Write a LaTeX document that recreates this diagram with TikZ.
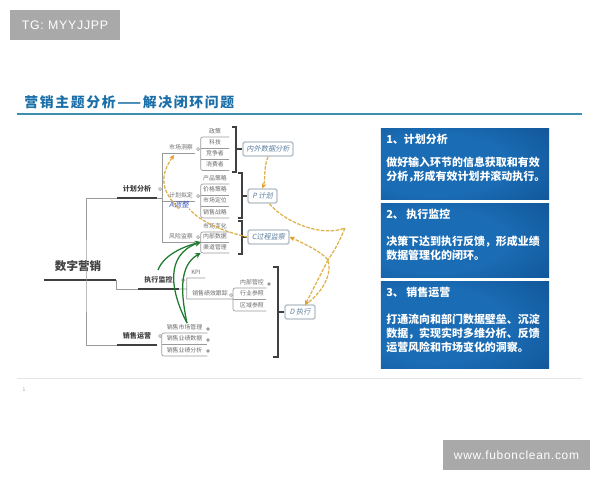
\documentclass[tikz,border=0pt]{standalone}
\usepackage{fontspec}
\usepackage{tikz}
\usetikzlibrary{arrows.meta}

\setmainfont{Noto Sans CJK SC}
\newfontfamily\tagfont{Liberation Sans}[LetterSpace=6]
\newfontfamily\slantfont{Noto Sans CJK SC}[FakeSlant=.2]
\newfontfamily\headfont{Noto Sans CJK SC}[LetterSpace=12]

\definecolor{headblue}{HTML}{1B6FA8}
\definecolor{headrule}{HTML}{3E8FAE}
\definecolor{tagback}{HTML}{A9A9A9}
\definecolor{panelmid}{HTML}{1A6CB4}
\definecolor{paneldark}{HTML}{0A3F7E}
\definecolor{twiggray}{HTML}{9A9A9A}
\definecolor{leafgray}{HTML}{6B6B6B}
\definecolor{stepblue}{HTML}{5B7F9E}
\definecolor{stepedge}{HTML}{B4BEC6}
\definecolor{loopyellow}{HTML}{DDB24A}
\definecolor{looptip}{HTML}{E59A20}
\definecolor{pushgreen}{HTML}{1F7A30}

\pgfdeclareradialshading{panelglow}{\pgfpoint{-12bp}{0bp}}{
  color(0bp)=(panelmid); color(22bp)=(panelmid); color(62bp)=(paneldark); color(100bp)=(paneldark)}

\tikzset{
  leaf/.style={anchor=south, inner sep=0, minimum width=.7cm, minimum height=.275cm,
    text=leafgray, font=\fontsize{4.2}{5}\selectfont},
  topic/.style={anchor=south, inner sep=0, minimum width=1cm, minimum height=.45cm,
    text=black!75, font=\bfseries\fontsize{5}{6}\selectfont},
  twig/.style={draw=twiggray, line width=.5},
  stem/.style={draw=black!75, line width=1},
  brak/.style={draw=black!75, line width=.8},
  fold/.style={circle, draw=twiggray, fill=white, inner sep=0, minimum size=.08cm},
  leafdot/.style={circle, fill=twiggray, inner sep=0, minimum size=.09cm},
  stepbox/.style={draw=stepedge, line width=1, rounded corners=1.5, fill=white, inner sep=0,
    minimum height=.35cm, text=stepblue, font=\slantfont\fontsize{5.1}{6}\selectfont},
  loopline/.style={draw=loopyellow, line width=.9, dash pattern=on 2.5pt off 1pt,
    -{Stealth[length=3.5pt,width=3.5pt,color=looptip]}},
  pushline/.style={draw=pushgreen, line width=.9, -{Stealth[length=4pt,width=4pt]}},
  panel/.style={inner sep=0, minimum width=4.2cm, shade, shading=panelglow},
  paneltext/.style={anchor=west, inner sep=0, align=left, text=white,
    font=\bfseries\fontsize{7.8}{9.9}\selectfont},
  tagbox/.style={fill=tagback, text=white, inner sep=0, font=\tagfont\fontsize{8.8}{10}\selectfont}
}

\begin{document}
\begin{tikzpicture}[x=.025cm, y=-.025cm]
\useasboundingbox (0,0) rectangle (600,480);

% corner tags
\node[tagbox, minimum width=2.75cm, minimum height=.75cm] (tagtop) at (65,25) {TG: MYYJJPP};
\node[tagbox, minimum width=3.675cm, minimum height=.75cm, font=\tagfont\fontsize{8.5}{10}\selectfont]
  (tagsite) at (516.5,455) {www.fubonclean.com};

% heading
\node[anchor=west, inner sep=0, text=headblue, font=\headfont\bfseries\fontsize{9.85}{11}\selectfont]
  (head) at (24,102) {营销主题分析——解决闭环问题};
\draw[headrule, line width=1.2]
  (17,114) to (582,114);
\draw[black!10, line width=.6]
  (17,378) to (582,378);
\node[inner sep=0, text=black!40, font=\fontsize{3.5}{4}\selectfont] (pageno) at (24,390) {1};

% root and main branches
\node[topic, minimum width=1.8cm, minimum height=.7cm, font=\bfseries\fontsize{8.2}{10}\selectfont]
  (root) at (80,280) {数字营销\kern 2.8pt};
\node[topic] (plan) at (137,198) {计划分析};
\node[topic] (exec) at (158.5,289) {执行监控};
\node[topic] (sale) at (137,345) {销售运营};
\draw[stem, line width=1.2]
  (root.south west) -- (root.south east);
\draw[stem]
  (plan.south west) -- (plan.south east)
  (exec.south west) -- (exec.south east)
  (sale.south west) -- (sale.south east);
\draw[twig]
  (plan.south west) -| (86,280) |- (sale.south west);
\draw[twig]
  (root.south east) |- (exec.south west);

% plan side
\coordinate (planrail) at (162,198);
\node[fold] (planfold) at (160,189) {};
\node[leaf] (market) at (181,153) {市场洞察};
\node[leaf] (draft) at (181,201) {计划拟定};
\node[leaf] (risk) at (181,242) {风险监察};
\draw[twig]
  (plan.south east) -- (planrail)
  (market.south east) -- (market.south west -| planrail) -- (risk.south west -| planrail) -- (risk.south east)
  (draft.south west -| planrail) -- (draft.south east);
\node[fold] (marketfold) at (198,149) {};
\node[fold] (draftfold) at (198,196) {};
\node[fold] (riskfold) at (198,237) {};

\node[leaf] (policy) at (215,137) {政策};
\node[leaf] (tech) at (215,148) {科技};
\node[leaf] (rival) at (215,159) {竞争者};
\node[leaf] (buyer) at (215,170.5) {消费者};
\draw[twig, rounded corners=1.5]
  (policy.south east) -- (policy.south west) -- (buyer.south west) -- (buyer.south east);
\draw[twig]
  (tech.south west) -- (tech.south east)
  (rival.south west) -- (rival.south east);

\node[leaf] (goods) at (215,184) {产品策略};
\node[leaf] (price) at (215,195) {价格策略};
\node[leaf] (place) at (215,206) {市场定位};
\node[leaf] (sellplan) at (215,218) {销售战略};
\draw[twig, rounded corners=1.5]
  (goods.south east) -- (goods.south west) -- (sellplan.south west) -- (sellplan.south east);
\draw[twig]
  (price.south west) -- (price.south east)
  (place.south west) -- (place.south east);

\node[leaf] (shift) at (215,232) {市场变化};
\node[leaf] (inner) at (215,242) {内部数据};
\node[leaf] (channel) at (215,253) {渠道管理};
\draw[twig, rounded corners=1.5]
  (shift.south east) -- (shift.south west) -- (channel.south west) -- (channel.south east);
\draw[twig]
  (inner.south west) -- (inner.south east);

% exec side
\coordinate (trackrail) at (233,299);
\node[fold] (execfold) at (183,280) {};
\node[leaf, minimum width=.45cm] (kpi) at (196,278) {KPI};
\node[leaf, minimum width=1.15cm] (track) at (210,299) {销售绩效跟踪};
\draw[twig]
  (exec.south east) -- (186,289)
  (kpi.south east) -- (kpi.south west) -- (track.south west) -- (track.south east);
\node[fold] (trackfold) at (231,295) {};
\node[leaf] (control) at (252,288) {内部管控};
\node[leaf] (trade) at (252,299) {行业参照};
\node[leaf] (area) at (252,311) {区域参照};
\draw[twig, rounded corners=1.5]
  (control.south east) -- (control.south west -| trackrail) -- (area.south west -| trackrail) -- (area.south east);
\draw[twig]
  (trackrail) -- (trade.south east);
\node[leafdot] (controldot) at (269,284) {};

% sale side
\node[fold] (salefold) at (160,336) {};
\node[leaf, minimum width=1.125cm] (salemarket) at (184.5,333) {销售市场管理};
\node[leaf, minimum width=1.125cm] (saledata) at (184.5,344) {销售业绩数据};
\node[leaf, minimum width=1.125cm] (salecheck) at (184.5,356) {销售业绩分析};
\draw[twig, rounded corners=1.5]
  (salemarket.south east) -- (salemarket.south west) -- (salecheck.south west) -- (salecheck.south east);
\draw[twig]
  (saledata.south west) -- (saledata.south east);
\node[leafdot] (marketdot) at (208,329) {};
\node[leafdot] (datadot) at (208,340) {};
\node[leafdot] (checkdot) at (208,351) {};

% brackets
\coordinate (brakone) at (236,149);
\coordinate (braktwo) at (242,196);
\coordinate (brakthree) at (242,237);
\coordinate (brakfour) at (278,312);
\draw[brak]
  (brakone) +(-4,-22) -- +(0,-22) -- +(0,23) -- +(-4,23);
\draw[brak]
  (braktwo) +(-4,-23) -- +(0,-23) -- +(0,22) -- +(-4,22);
\draw[brak]
  (brakthree) +(-4,-16) -- +(0,-16) -- +(0,17) -- +(-4,17);
\draw[brak]
  (brakfour) +(-5,-45) -- +(0,-45) -- +(0,45) -- +(-5,45);

% PDCA boxes
\node[stepbox, minimum width=1.25cm] (datastep) at (268,149) {内外数据分析};
\node[stepbox, minimum width=.725cm] (pstep) at (262.5,196) {P 计划};
\node[stepbox, minimum width=1.025cm] (cstep) at (268.5,237) {C过程监察};
\node[stepbox, minimum width=.75cm] (dstep) at (300,312) {D 执行};
\node[inner sep=0, text=stepblue!70!blue, font=\slantfont\fontsize{5.4}{6}\selectfont] (astep) at (179,205) {A调整};
\draw[brak]
  (brakone) -- (datastep.west);
\draw[brak]
  (braktwo) -- (pstep.west);
\draw[brak]
  (brakthree) -- (cstep.west);
\draw[brak]
  (brakfour) -- (dstep.west);

% yellow loop
\coordinate (loopcorner) at (345,228);
\coordinate (loopknee) at (328,260);
\coordinate (looptop) at (305,305);
\coordinate (markettip) at (174,155);
\draw[loopline]
  (datastep.south) .. controls (263,170) and (266,178) .. (pstep.north);
\draw[loopline, -]
  (pstep.south) ++(7,0) .. controls (282,220) and (320,238) .. (loopcorner)
  .. controls (340,240) and (335,250) .. (loopknee);
\draw[loopline]
  (loopknee) -- (looptop);
\draw[loopline]
  (looptop) .. controls (318,296) and (333,278) .. (loopknee)
  .. controls (322,252) and (305,244) .. (cstep.east);
\draw[loopline, -]
  (cstep.west) .. controls (225,232) and (200,222) .. (astep.south east);
\draw[loopline]
  (astep.south) .. controls (160,190) and (160,175) .. (markettip);

% green arrows
\coordinate (greenstart) at (158,270);
\coordinate (greenbase) at (187,323);
\draw[pushline]
  (greenstart) .. controls (165,252) and (190,245) .. (inner.south west);
\draw[pushline]
  (greenbase) .. controls (170,290) and (165,255) .. (inner.south west);
\draw[pushline]
  (greenbase) .. controls (180,290) and (180,265) .. (channel.south west);

% panels
\node[panel, minimum height=1.75cm] (panelone) at (465,164) {};
\node[panel, minimum height=1.825cm] (paneltwo) at (465,240.5) {};
\node[panel, minimum height=2.15cm] (panelthree) at (465,325) {};
\node[paneltext] (headone) at (386,139) {1、计划分析};
\node[paneltext] (bodyone) at (386,170) {做好输入环节的信息获取和有效\\分析，\kern-.5em形成有效计划并滚动执行。};
\node[paneltext] (headtwo) at (386,214) {2、 执行监控};
\node[paneltext] (bodytwo) at (386,248) {决策下达到执行反馈，形成业绩\\数据管理化的闭环。};
\node[paneltext] (headthree) at (386,292) {3、 销售运营};
\node[paneltext] (bodythree) at (386,333) {打通流向和部门数据壁垒、沉淀\\数据，实现实时多维分析、反馈\\运营风险和市场变化的洞察。};
\end{tikzpicture}
\end{document}
